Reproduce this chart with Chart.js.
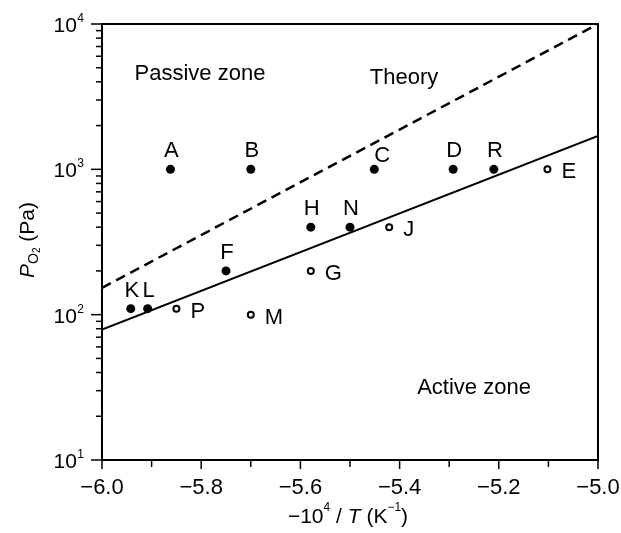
<!DOCTYPE html>
<html>
<head>
<meta charset="utf-8">
<script src="https://cdn.jsdelivr.net/npm/chart.js@4/dist/chart.umd.min.js"></script>
<style>
  html, body { margin: 0; padding: 0; background: #fff; overflow: hidden; }
  #chart-id { display: block; }
</style>
</head>
<body>
<canvas id="chart-id" width="621" height="533"></canvas>
<script>
// samples
const filledNames = ['A', 'B', 'C', 'D', 'R', 'H', 'N', 'F', 'K', 'L'];
const filledX = [-5.862, -5.70, -5.451, -5.292, -5.21, -5.579, -5.50, -5.75, -5.942, -5.908];
const filledY = [1000, 1000, 1000, 1000, 1000, 400, 400, 200, 110, 110];

const openNames = ['E', 'J', 'G', 'P', 'M'];
const openX = [-5.102, -5.421, -5.579, -5.85, -5.70];
const openY = [1000, 400, 200, 110, 100];

// theory (dashed) and fitted (solid) lines
const theoryX = [-6.0, -5.0];
const theoryY = [153, 10000];
const fitX = [-6.0, -5.0];
const fitY = [79, 1700];

// axis
const xTickValues = [-6.0, -5.8, -5.6, -5.4, -5.2, -5.0];
const yDecades = [1, 2, 3, 4];
const zoneLabels = ['Passive zone', 'Theory', 'Active zone'];

const FONT = '"Liberation Sans", Arial, Helvetica, sans-serif';
const toPts = (xs, ys) => xs.map((x, i) => ({ x: x, y: ys[i] }));

// names that sit to the right of their marker (rest sit on top)
const rightSide = new Set(['E', 'J', 'G', 'P', 'M']);

const decorPlugin = {
  id: 'decor',
  afterDraw(chart) {
    const ctx = chart.ctx;
    const area = chart.chartArea;
    const xs = chart.scales.x;
    const ys = chart.scales.y;
    ctx.save();
    ctx.strokeStyle = '#000';
    ctx.fillStyle = '#000';

    // frame
    ctx.lineWidth = 2;
    ctx.strokeRect(area.left, area.top, area.right - area.left, area.bottom - area.top);

    // y ticks (outward)
    ctx.lineWidth = 1.5;
    yDecades.forEach((d, i) => {
      const base = Math.pow(10, d);
      let y = ys.getPixelForValue(base);
      ctx.beginPath();
      ctx.moveTo(area.left - 11, y);
      ctx.lineTo(area.left, y);
      ctx.stroke();
      if (i < yDecades.length - 1) {
        for (let m = 2; m <= 9; m++) {
          y = ys.getPixelForValue(base * m);
          ctx.beginPath();
          ctx.moveTo(area.left - 6, y);
          ctx.lineTo(area.left, y);
          ctx.stroke();
        }
      }
    });
    // x ticks (outward), minor every 0.1
    for (let k = 0; k <= 10; k++) {
      const x = xs.getPixelForValue(-6 + k / 10);
      ctx.beginPath();
      ctx.moveTo(x, area.bottom);
      ctx.lineTo(x, area.bottom + (k % 2 === 0 ? 9 : 7));
      ctx.stroke();
    }

    // x tick labels
    ctx.font = '22px ' + FONT;
    ctx.textAlign = 'center';
    ctx.textBaseline = 'alphabetic';
    xTickValues.forEach((v) => {
      ctx.fillText('\u2212' + Math.abs(v).toFixed(1), xs.getPixelForValue(v), 494);
    });

    // y tick labels 10^n
    yDecades.forEach((d) => {
      const y = ys.getPixelForValue(Math.pow(10, d));
      ctx.textBaseline = 'alphabetic';
      ctx.textAlign = 'right';
      ctx.font = '12px ' + FONT;
      const sup = String(d);
      const supW = ctx.measureText(sup).width;
      const right = 84;
      ctx.fillText(sup, right, y - 2);
      ctx.font = '21px ' + FONT;
      ctx.fillText('10', right - supW - 0.5, y + 8);
    });

    // point names
    ctx.font = '22px ' + FONT;
    ctx.textBaseline = 'alphabetic';
    const drawNames = (names, xv, yv) => {
      names.forEach((n, i) => {
        const px = xs.getPixelForValue(xv[i]);
        const py = ys.getPixelForValue(yv[i]);
        if (rightSide.has(n)) {
          ctx.textAlign = 'left';
          ctx.fillText(n, px + 14, py + 9);
        } else if (n === 'C') {
          ctx.textAlign = 'center';
          ctx.fillText(n, px + 8, py - 7);
        } else {
          ctx.textAlign = 'center';
          ctx.fillText(n, px + 1, py - 12);
        }
      });
    };
    drawNames(filledNames, filledX, filledY);
    drawNames(openNames, openX, openY);

    // zone labels
    ctx.textAlign = 'center';
    ctx.fillText(zoneLabels[0], 200, 80);
    ctx.fillText(zoneLabels[1], 404, 84);
    ctx.fillText(zoneLabels[2], 474, 394);

    // x axis title: -10^4 / T (K^-1)
    const parts = [
      { t: '\u221210', f: '21px ' + FONT, dy: 0 },
      { t: '4', f: '12px ' + FONT, dy: -12 },
      { t: ' /', f: '21px ' + FONT, dy: 0 },
      { t: ' T', f: 'italic 21px ' + FONT, dy: 0 },
      { t: ' (K', f: '21px ' + FONT, dy: 0 },
      { t: '\u22121', f: '12px ' + FONT, dy: -12 },
      { t: ')', f: '21px ' + FONT, dy: 0 }
    ];
    const drawParts = (list, cx, baseY) => {
      let total = 0;
      list.forEach((p) => { ctx.font = p.f; p.w = ctx.measureText(p.t).width; total += p.w; });
      let x = cx - total / 2;
      ctx.textAlign = 'left';
      ctx.textBaseline = 'alphabetic';
      list.forEach((p) => { ctx.font = p.f; ctx.fillText(p.t, x, baseY + p.dy); x += p.w; });
    };
    drawParts(parts, 348, 523);

    // y axis title: P_O2 (Pa), rotated
    ctx.translate(34, 240);
    ctx.rotate(-Math.PI / 2);
    const yParts = [
      { t: 'P', f: 'italic 21px ' + FONT, dy: 0 },
      { t: 'O', f: '14px ' + FONT, dy: 4 },
      { t: '2', f: '10px ' + FONT, dy: 6 },
      { t: ' (Pa)', f: '21px ' + FONT, dy: 0 }
    ];
    drawParts(yParts, 0, 0);
    ctx.restore();
  }
};

new Chart(document.getElementById('chart-id'), {
  type: 'scatter',
  data: {
    datasets: [
      {
        label: 'Theory',
        type: 'line',
        data: toPts(theoryX, theoryY),
        borderColor: '#000',
        borderWidth: 2.5,
        borderDash: [10, 6],
        pointRadius: 0,
        fill: false
      },
      {
        label: 'Fit',
        type: 'line',
        data: toPts(fitX, fitY),
        borderColor: '#000',
        borderWidth: 2,
        pointRadius: 0,
        fill: false
      },
      {
        label: 'Filled',
        data: toPts(filledX, filledY),
        backgroundColor: '#000',
        borderColor: '#000',
        borderWidth: 0,
        pointRadius: 4.5
      },
      {
        label: 'Open',
        data: toPts(openX, openY),
        backgroundColor: '#fff',
        borderColor: '#000',
        borderWidth: 2,
        pointRadius: 3
      }
    ]
  },
  options: {
    responsive: false,
    maintainAspectRatio: false,
    animation: false,
    layout: { padding: { left: 0, top: 24, right: 23, bottom: 0 } },
    plugins: {
      legend: { display: false },
      tooltip: { enabled: false }
    },
    scales: {
      x: {
        type: 'linear',
        min: -6.0,
        max: -5.0,
        grid: { display: false, drawTicks: false },
        border: { display: false },
        afterFit: (s) => { s.height = 73; },
        ticks: { display: false }
      },
      y: {
        type: 'logarithmic',
        min: 10,
        max: 10000,
        grid: { display: false, drawTicks: false },
        border: { display: false },
        afterFit: (s) => { s.width = 102; },
        ticks: { display: false }
      }
    }
  },
  plugins: [decorPlugin]
});
</script>
</body>
</html>
